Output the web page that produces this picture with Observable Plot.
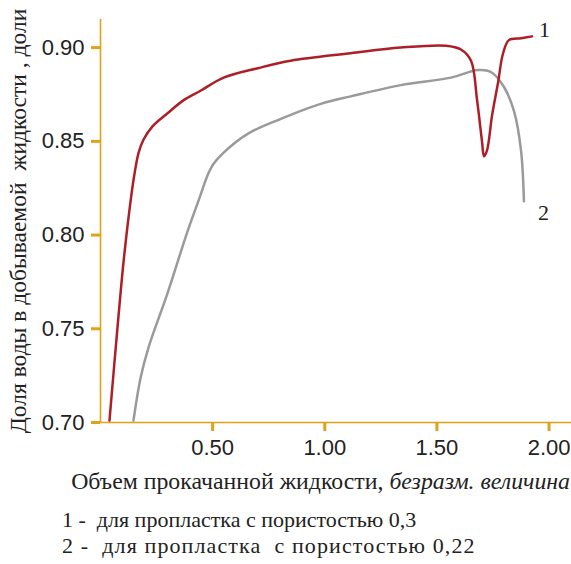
<!DOCTYPE html>
<html><head><meta charset="utf-8">
<script src="https://cdn.jsdelivr.net/npm/d3@7"></script>
<script src="https://cdn.jsdelivr.net/npm/@observablehq/plot@0.6"></script>
<style>
body{margin:0;background:#fff;}
#chart svg{display:block;overflow:visible;}
#chart g[aria-label="y-axis tick"], #chart g[aria-label="x-axis tick"]{stroke:#e0a11b;stroke-width:3;}
#chart g[aria-label="y-axis tick label"], #chart g[aria-label="x-axis tick label"]{font-family:"Liberation Sans",Arial,sans-serif;font-size:22px;fill:#222;}
#chart g[aria-label="y-axis label"]{font-family:"Liberation Serif","Times New Roman",serif;font-size:23.5px;fill:#222;}
.xl{font-family:"Liberation Serif","Times New Roman",serif;font-size:23.8px;color:#222;position:absolute;right:1px;top:468px;white-space:pre;}
.lg{font-family:"Liberation Serif","Times New Roman",serif;font-size:22px;color:#222;position:absolute;left:62px;white-space:pre;}
</style></head>
<body>
<div id="chart" style="position:relative;width:571px;height:564px;">
<div class="xl">Объем прокачанной жидкости, <i>безразм. величина</i></div>
<div class="lg" style="top:507px">1 -  для пропластка с пористостью 0,3</div>
<div class="lg" style="top:533px;letter-spacing:1.1px">2 -  для пропластка  с пористостью 0,22</div>
</div>
<script>
const xTicks = [0.5, 1.0, 1.5, 2.0];
const yTicks = [0.70, 0.75, 0.80, 0.85, 0.90];
const yTitle = "Доля воды в добываемой  жидкости , доли";

const s1x = [0.040,0.076,0.103,0.134,0.152,0.170,0.192,0.232,0.299,0.371,0.446,0.549,0.701,0.848,1.116,1.339,1.540,1.607,1.652,1.679,1.701,1.710,1.723,1.746,1.772,1.795,1.821,1.875,1.924];
const s1y = [0.701,0.751,0.786,0.818,0.833,0.844,0.851,0.858,0.865,0.872,0.877,0.884,0.889,0.893,0.897,0.900,0.901,0.899,0.893,0.872,0.850,0.842,0.845,0.864,0.881,0.897,0.904,0.905,0.906];
const s2x = [0.147,0.179,0.214,0.299,0.388,0.442,0.478,0.504,0.549,0.656,0.804,0.982,1.116,1.339,1.563,1.683,1.741,1.799,1.844,1.875,1.888];
const s2y = [0.701,0.724,0.740,0.769,0.802,0.820,0.832,0.838,0.844,0.854,0.862,0.870,0.874,0.880,0.884,0.888,0.887,0.879,0.866,0.845,0.818];

const d1 = s1x.map((x,i)=>({x, y:s1y[i]}));
const d2 = s2x.map((x,i)=>({x, y:s2y[i]}));
const gold = "#e0a11b";

const plot = Plot.plot({
  width: 571, height: 464,
  marginLeft: 100, marginRight: 0, marginTop: 19, marginBottom: 42,
  x: {domain:[0,2.1], ticks:xTicks, tickFormat:d3.format(".2f"), tickSize:9, tickPadding:8, label:null},
  y: {domain:[0.70,0.915], ticks:yTicks, tickFormat:d3.format(".2f"), tickSize:9, tickPadding:7, label:yTitle, labelArrow:"none", labelAnchor:"center", labelOffset:91},
  marks: [
    Plot.ruleX([0], {stroke:gold, strokeWidth:1.6}),
    Plot.ruleY([0.70], {stroke:gold, strokeWidth:1.6}),
    Plot.line(d2, {x:"x", y:"y", stroke:"#9a9a9c", strokeWidth:2.5, curve:"catmull-rom"}),
    Plot.line(d1, {x:"x", y:"y", stroke:"#ad1f26", strokeWidth:2.5, curve:"catmull-rom"}),
    Plot.text(d1.slice(-1), {x:"x", y:"y", text:()=>"1", dx:7, dy:-6, textAnchor:"start", fontSize:22, fontFamily:"Liberation Serif, serif", fill:"#222"}),
    Plot.text(d2.slice(-1), {x:"x", y:"y", text:()=>"2", dx:14, dy:12, textAnchor:"start", fontSize:22, fontFamily:"Liberation Serif, serif", fill:"#222"})
  ]
});
document.getElementById("chart").prepend(plot);
</script>
</body></html>
